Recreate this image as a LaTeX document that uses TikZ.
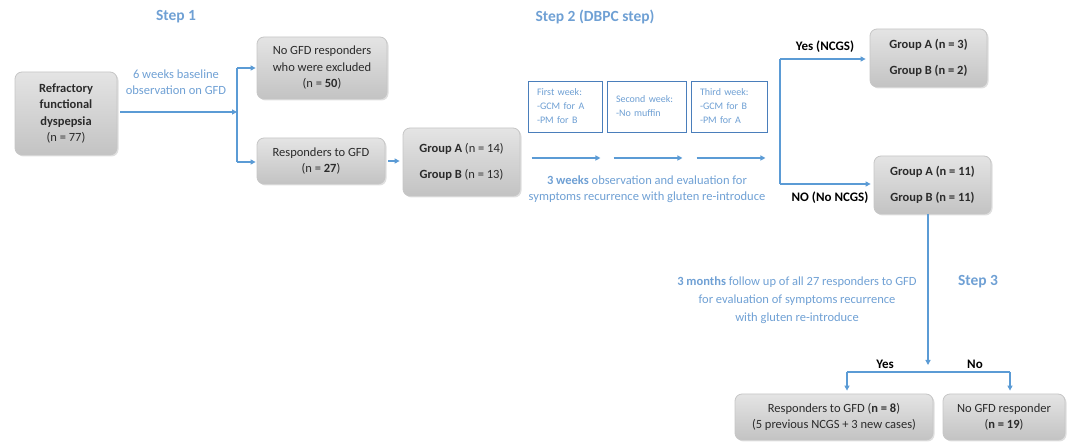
\documentclass[tikz,border=0pt]{standalone}
\usepackage{fontspec}
\setmainfont{Carlito}
\usetikzlibrary{arrows.meta,shadows}
\definecolor{lineblue}{HTML}{5B9BD5}
\definecolor{txtblue}{HTML}{6FA0D4}
\definecolor{wkblue}{HTML}{4A7EBB}
\definecolor{boxtop}{HTML}{E4E4E4}
\definecolor{boxbot}{HTML}{C3C3C3}
\definecolor{boxline}{HTML}{C6C6C6}
\definecolor{ink}{HTML}{2B2B2B}
\begin{document}
\begin{tikzpicture}[x=1pt,y=-1pt,
  graybox/.style={draw=boxline, line width=0.8pt, rounded corners=7pt,
    top color=boxtop, bottom color=boxbot, text=ink, align=center,
    font=\fontsize{12.5}{16.5}\selectfont, inner sep=2pt,
    drop shadow={shadow xshift=1.5pt, shadow yshift=-1.5pt, opacity=0.25, fill=gray}},
  wkbox/.style={draw=wkblue, line width=0.9pt, fill=white, text=txtblue,
    font=\fontsize{10}{14}\selectfont, align=left, inner xsep=9pt, minimum height=51pt},
  steplbl/.style={text=txtblue, font=\fontsize{15.5}{18}\selectfont\bfseries},
  bluelbl/.style={text=txtblue, align=center, font=\fontsize{12.5}{16}\selectfont},
  blacklbl/.style={text=black, font=\fontsize{13}{16}\selectfont\bfseries},
  line/.style={draw=lineblue, line width=1.2pt},
  arr/.style={line, -{Triangle[length=5pt,width=5pt]}}
]
\useasboundingbox (0,0) rectangle (1072,443);

% boxes
\node[graybox, minimum width=102pt, minimum height=83pt] (refr) at (66,113.5)
  {\textbf{Refractory}\\\textbf{functional}\\\textbf{dyspepsia}\\(n = 77)};
\node[graybox, minimum width=130pt, minimum height=62pt] (nogfd) at (322,68)
  {No GFD responders\\who were excluded\\(n = \textbf{50})};
\node[graybox, minimum width=128pt, minimum height=46pt] (resp) at (321,161)
  {Responders to GFD\\(n = \textbf{27})};
\node[graybox, minimum width=117pt, minimum height=68pt] (grp1) at (461.5,162)
  {\textbf{Group A} (n = 14)\\[10pt]\textbf{Group B} (n = 13)};

\node[wkbox, text width=56pt] (wk1) at (565,106.5) {First week:\\-GCM for A\\-PM for B};
\node[wkbox, text width=61pt] (wk2) at (646.5,106.5) {Second week:\\-No muffin};
\node[wkbox, text width=58pt] (wk3) at (729,106.5) {Third week:\\-GCM for B\\-PM for A};

\node[graybox, minimum width=117pt, minimum height=58pt] (yesgrp) at (928.5,58)
  {\textbf{Group A (n = 3)}\\[10pt]\textbf{Group B (n = 2)}};
\node[graybox, minimum width=117pt, minimum height=58pt] (nogrp) at (932.5,185)
  {\textbf{Group A (n = 11)}\\[10pt]\textbf{Group B (n = 11)}};
\node[graybox, minimum width=198pt, minimum height=46pt] (resp2) at (834,417)
  {Responders to GFD (\textbf{n = 8})\\(5 previous NCGS + 3 new cases)};
\node[graybox, minimum width=122pt, minimum height=46pt] (nogfd2) at (1004,417)
  {No GFD responder\\(\textbf{n = 19})};

% labels
\node[steplbl] (s1) at (176,17) {Step 1};
\node[bluelbl] (l1) at (176,82) {6 weeks baseline\\observation on GFD};
\node[steplbl] (s2) at (595,17) {Step 2 (DBPC step)};
\node[bluelbl] (l2) at (647,189) {\textbf{3 weeks} observation and evaluation for\\symptoms recurrence with gluten re-introduce};
\node[blacklbl] (yes1) at (825,47) {Yes (NCGS)};
\node[blacklbl] (no1) at (830,198) {NO (No NCGS)};
\node[bluelbl, font=\fontsize{12.5}{18}\selectfont] (l3) at (797,300)
  {\textbf{3 months} follow up of all 27 responders to GFD\\for evaluation of symptoms recurrence\\with gluten re-introduce};
\node[steplbl] (s3) at (978,282) {Step 3};
\node[blacklbl] (yes2) at (885,364) {Yes};
\node[blacklbl] (no2) at (975,364) {No};

% connectors step 1
\coordinate (b1) at (237,112);
\coordinate (b1top) at (237,68);
\coordinate (b1bot) at (237,162);
\draw[arr, shorten <=3pt] (refr.east |- b1) -- (b1);
\draw[line] (b1top) -- (b1bot);
\draw[arr, shorten >=1pt] (b1top) -- (nogfd.west |- b1top);
\draw[arr, shorten >=1pt] (b1bot) -- (resp.west |- b1bot);
\draw[arr, shorten <=3pt, shorten >=3pt] (resp.east) -- (resp.east -| grp1.west);

% week arrows
\coordinate (arow) at (0,158);
\draw[arr] ([xshift=4pt]wk1.west |- arow) -- ([xshift=-2pt]wk1.east |- arow);
\draw[arr] ([xshift=7pt]wk2.west |- arow) -- ([xshift=-4pt]wk2.east |- arow);
\draw[arr] ([xshift=6pt]wk3.west |- arow) -- ([xshift=-2pt]wk3.east |- arow);

% step 2 branch
\coordinate (b2top) at (780,59);
\coordinate (b2bot) at (780,184);
\draw[line] (b2top) -- (b2bot);
\draw[arr, shorten >=4pt] (b2top) -- (yesgrp.west |- b2top);
\draw[arr, shorten >=3pt] (b2bot) -- (nogrp.west |- b2bot);

% step 3
\coordinate (v3) at (928,365);
\coordinate (hl) at (847,372);
\coordinate (hr) at (1010,372);
\draw[arr] (nogrp.south -| v3) -- (v3);
\draw[line] (hl) -- (hr);
\draw[arr, shorten >=3pt] (hl) -- (resp2.north -| hl);
\draw[arr, shorten >=3pt] (hr) -- (nogfd2.north -| hr);
\end{tikzpicture}
\end{document}
